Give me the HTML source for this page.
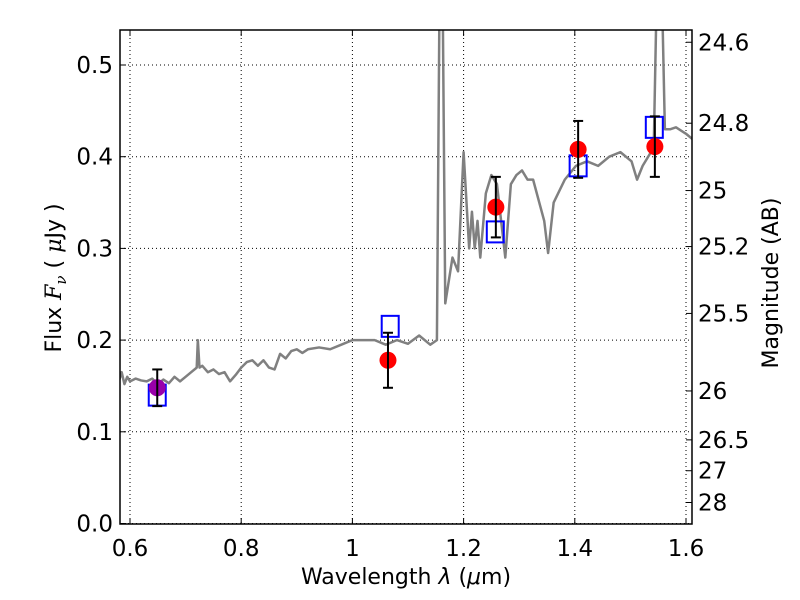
<!DOCTYPE html>
<html><head><meta charset="utf-8"><style>
body{margin:0;background:#fff}
svg{display:block;font-family:"DejaVu Sans","Liberation Sans",sans-serif}
</style></head><body>
<svg id="c" width="800" height="600"></svg>
<script>
const specWave=[0.575,0.58,0.585,0.59,0.595,0.6,0.61,0.62,0.63,0.64,0.65,0.66,0.67,0.68,0.69,0.7,0.71,0.72,0.722,0.725,0.73,0.74,0.75,0.76,0.77,0.78,0.79,0.8,0.81,0.82,0.83,0.84,0.85,0.86,0.87,0.88,0.89,0.9,0.91,0.92,0.94,0.96,0.98,1.0,1.02,1.04,1.06,1.08,1.1,1.12,1.14,1.152,1.157,1.162,1.167,1.18,1.19,1.2,1.21,1.215,1.22,1.225,1.23,1.24,1.25,1.26,1.275,1.285,1.295,1.305,1.315,1.325,1.345,1.352,1.362,1.382,1.402,1.422,1.442,1.462,1.482,1.502,1.512,1.522,1.542,1.548,1.556,1.562,1.572,1.582,1.6,1.62];
const specFlux=[0.16,0.155,0.165,0.152,0.16,0.155,0.158,0.156,0.155,0.158,0.152,0.157,0.153,0.16,0.155,0.16,0.165,0.17,0.2,0.17,0.172,0.165,0.168,0.163,0.165,0.155,0.162,0.17,0.176,0.178,0.172,0.178,0.17,0.168,0.185,0.18,0.188,0.19,0.186,0.19,0.192,0.19,0.195,0.2,0.2,0.2,0.195,0.2,0.196,0.205,0.195,0.2,0.6,0.6,0.24,0.29,0.275,0.405,0.3,0.34,0.3,0.33,0.29,0.36,0.38,0.37,0.29,0.37,0.38,0.385,0.375,0.375,0.33,0.295,0.35,0.375,0.39,0.395,0.39,0.4,0.405,0.395,0.375,0.39,0.41,0.6,0.6,0.43,0.43,0.432,0.425,0.415];
const obsWave=[1.064,1.258,1.406,1.544];
const obsFlux=[0.178,0.345,0.408,0.411];
const obsErr=[0.03,0.033,0.031,0.033];
const purpleWave=[0.649];const purpleFlux=[0.148];const purpleErr=[0.02];
const modelWave=[0.649,1.068,1.257,1.406,1.543];
const modelFlux=[0.14,0.215,0.318,0.39,0.432];
const xTicks=[0.6,0.8,1.0,1.2,1.4,1.6];
const xTickLabels=["0.6","0.8","1","1.2","1.4","1.6"];
const yTicks=[0,0.1,0.2,0.3,0.4,0.5];
const yTickLabels=["0.0","0.1","0.2","0.3","0.4","0.5"];
const magTicks=[24.6,24.8,25,25.2,25.5,26,26.5,27,28];
const magLabels=["24.6","24.8","25","25.2","25.5","26","26.5","27","28"];

const L=120,R=692,T=30,B=524;
const X=v=>130+(v-0.6)*556;
const Y=v=>523.5-v*917;
const NS="http://www.w3.org/2000/svg";
const svg=document.getElementById('c');
function mk(tag,attrs,parent){const e=document.createElementNS(NS,tag);for(const k in attrs)e.setAttribute(k,attrs[k]);(parent||svg).appendChild(e);return e;}
const defs=mk('defs',{});const cp=mk('clipPath',{id:'pc'},defs);mk('rect',{x:L,y:T,width:R-L,height:B-T},cp);

const grid=mk('g',{});


xTicks.forEach(t=>mk('line',{x1:X(t),x2:X(t),y1:T,y2:B,stroke:'#000','stroke-width':1,'stroke-dasharray':'1,3'},grid));
yTicks.forEach(t=>mk('line',{x1:L,x2:R,y1:Y(t),y2:Y(t),stroke:'#000','stroke-width':1,'stroke-dasharray':'1,3'},grid));

const g=mk('g',{'clip-path':'url(#pc)'});
const sp=mk('polyline',{points:specWave.map((w,i)=>X(w)+','+Y(specFlux[i])).join(' '),fill:'none',stroke:'#808080','stroke-width':2.5,'stroke-linejoin':'round'},g);


function err(x,y,e,name){const eg=mk('g',{},g);


mk('line',{x1:X(x),x2:X(x),y1:Y(y-e),y2:Y(y+e),stroke:'#000','stroke-width':2},eg);
[y-e,y+e].forEach(v=>mk('line',{x1:X(x)-5,x2:X(x)+5,y1:Y(v),y2:Y(v),stroke:'#000','stroke-width':2},eg));}
modelWave.forEach((w,i)=>{const r=mk('rect',{x:X(w)-8.5,y:Y(modelFlux[i])-10.5,width:17,height:21,fill:'none',stroke:'#0000ff','stroke-width':2},g);

});
obsWave.forEach((w,i)=>{const c=mk('circle',{cx:X(w),cy:Y(obsFlux[i]),r:8.5,fill:'#ff0000'},g);


err(w,obsFlux[i],obsErr[i],'observed-error-bar');});
purpleWave.forEach((w,i)=>{const c=mk('circle',{cx:X(w),cy:Y(purpleFlux[i]),r:8.5,fill:'#9900aa'},g);


err(w,purpleFlux[i],purpleErr[i],'purple-error-bar');});

const fr=mk('rect',{x:L,y:T,width:R-L,height:B-T,fill:'none',stroke:'#000','stroke-width':1.5});



xTicks.forEach((t,i)=>{mk('line',{x1:X(t),x2:X(t),y1:B,y2:B-6,stroke:'#000'});mk('line',{x1:X(t),x2:X(t),y1:T,y2:T+6,stroke:'#000'});
const tx=mk('text',{x:X(t),y:556,'font-size':23,'text-anchor':'middle'});tx.textContent=xTickLabels[i];

});
yTicks.forEach((t,i)=>{mk('line',{x1:L,x2:L+6,y1:Y(t),y2:Y(t),stroke:'#000'});
const tx=mk('text',{x:113,y:Y(t)+8,'font-size':23,'text-anchor':'end'});tx.textContent=yTickLabels[i];

});
magTicks.forEach((m,i)=>{const yy=Y(Math.pow(10,(23.9-m)/2.5));mk('line',{x1:R,x2:R-6,y1:yy,y2:yy,stroke:'#000'});
const tx=mk('text',{x:698,y:yy+8,'font-size':23});tx.textContent=magLabels[i];

});

const xt=mk('text',{x:406,y:584,'font-size':22,'text-anchor':'middle'});
xt.innerHTML='Wavelength  <tspan font-style="italic">λ</tspan> (<tspan font-style="italic">μ</tspan>m)';


const yt=mk('text',{x:61,y:278,'font-size':22,'text-anchor':'middle',transform:'rotate(-90 61 278)'});
yt.innerHTML='Flux  <tspan font-style="italic" font-family="DejaVu Serif">F</tspan><tspan font-style="italic" font-family="DejaVu Serif" font-size="15" dy="5">ν</tspan><tspan dy="-5">  ( </tspan><tspan font-style="italic" font-family="DejaVu Serif">μ</tspan>Jy )';


const rt=mk('text',{x:778,y:283,'font-size':22,'text-anchor':'middle',transform:'rotate(-90 778 283)'});
rt.textContent='Magnitude (AB)';


</script>
</body></html>
